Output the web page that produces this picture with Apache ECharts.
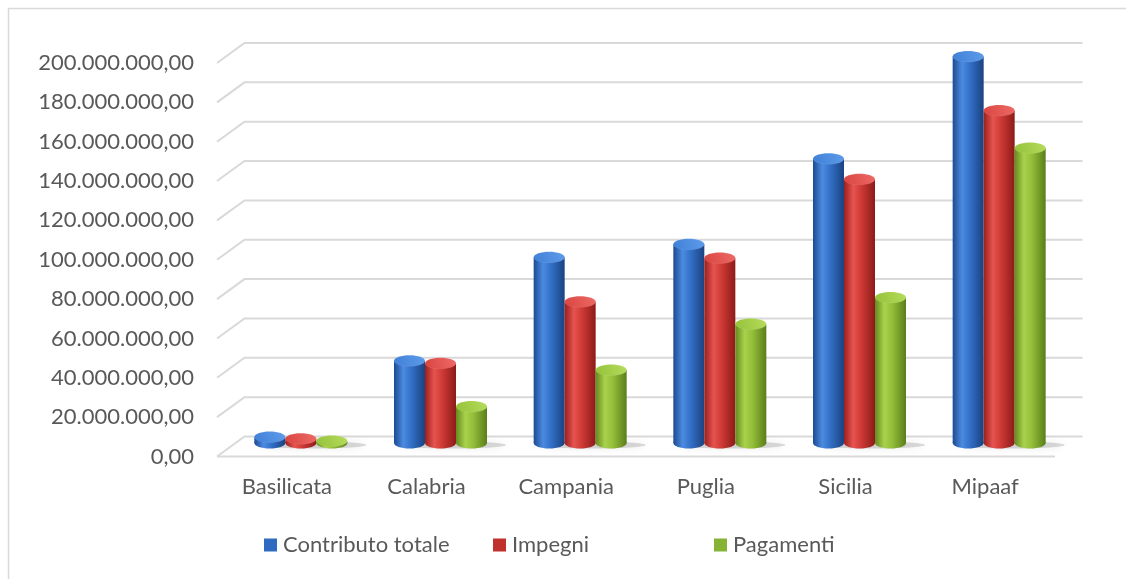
<!DOCTYPE html>
<html>
<head>
<meta charset="utf-8">
<script src="https://cdn.jsdelivr.net/npm/echarts@6/dist/echarts.min.js"></script>
<style>
  html, body { margin: 0; padding: 0; background: #ffffff; }
  #chart { width: 1126px; height: 579px; }
</style>
</head>
<body>
<div id="chart"></div>
<script>
// Regions and totals (euro)
const categories = ['Basilicata', 'Calabria', 'Campania', 'Puglia', 'Sicilia', 'Mipaaf'];
const contributoTotale = [3.0e6, 41.8e6, 94.4e6, 101.0e6, 144.5e6, 196.5e6];
const impegni          = [2.2e6, 40.5e6, 71.8e6, 94.0e6, 134.0e6, 169.0e6];
const pagamenti        = [1.0e6, 18.5e6, 37.1e6, 60.5e6, 74.0e6, 150.0e6];
const seriesNames = ['Contributo totale', 'Impegni', 'Pagamenti'];
const yTicks = [0, 20e6, 40e6, 60e6, 80e6, 100e6, 120e6, 140e6, 160e6, 180e6, 200e6];

// depth of the pseudo-3D box relative to the plane the cylinders stand in
const BACK_DX = 13.5, BACK_DY = -6.5;
const FRONT_DX = -14, FRONT_DY = 13.5;
const PLANE = { left: 231, width: 838, top: 49.5, height: 393.5 };
const BAR_W = 31;
const RY = 5.5;
const FONT = 'Lato, "Open Sans", sans-serif';
const FONT_SIZE = 22;
const TEXT_COLOR = '#595959';
const GRID_COLOR = '#d9d9d9';

const palettes = [
  { edge: '#1c4a92', light: '#4b8be0', mid: '#3371c8', shade: '#1a4280', top: ['#3f7fd6', '#5e9cea'], legend: '#2e6bc0' },
  { edge: '#9a1f1c', light: '#e65450', mid: '#cf3a36', shade: '#8c1b18', top: ['#d94440', '#ee6a66'], legend: '#c0302d' },
  { edge: '#648a1f', light: '#a9d24c', mid: '#94bf3a', shade: '#5a7e1a', top: ['#94c13a', '#b6dc5c'], legend: '#86b236' }
];

function fmtIt(v) {
  return String(Math.round(v)).replace(/\B(?=(\d{3})+(?!\d))/g, '.') + ',00';
}

function bodyGradient(p) {
  return new echarts.graphic.LinearGradient(0, 0, 1, 0, [
    { offset: 0, color: p.edge },
    { offset: 0.3, color: p.light },
    { offset: 0.55, color: p.mid },
    { offset: 1, color: p.shade }
  ]);
}

function topGradient(p) {
  return new echarts.graphic.LinearGradient(0, 1, 1, 0, [
    { offset: 0, color: p.top[0] },
    { offset: 1, color: p.top[1] }
  ]);
}

// back wall, side wall stubs and floor
function renderGridLines(params, api) {
  const cs = params.coordSys;
  const left = cs.x, right = cs.x + cs.width;
  const y = api.coord([0, api.value(1)])[1];
  const children = [];
  if (api.value(1) === 0) {
    children.push({
      type: 'polygon',
      shape: { points: [
        [left + FRONT_DX, y + FRONT_DY], [left + BACK_DX, y + BACK_DY],
        [right + BACK_DX, y + BACK_DY], [right + FRONT_DX, y + FRONT_DY]
      ] },
      style: { fill: '#ffffff', stroke: null }
    });
    children.push({
      type: 'line',
      shape: { x1: left + FRONT_DX, y1: y + FRONT_DY, x2: right + FRONT_DX, y2: y + FRONT_DY },
      style: { stroke: GRID_COLOR, lineWidth: 2 }
    });
  }
  children.push({
    type: 'polyline',
    shape: { points: [
      [left + FRONT_DX, y + FRONT_DY], [left + BACK_DX, y + BACK_DY], [right + BACK_DX, y + BACK_DY]
    ] },
    style: { stroke: GRID_COLOR, lineWidth: 2, fill: null }
  });
  return { type: 'group', children };
}

// soft floor shadow behind each group of cylinders
function renderShadow(params, api) {
  const base = api.coord([api.value(0), 0]);
  return {
    type: 'ellipse',
    shape: { cx: base[0] + 12, cy: base[1] + 2, rx: BAR_W * 1.6 + 4, ry: 3.5 },
    style: { fill: 'rgba(90,90,90,0.22)', shadowBlur: 9, shadowColor: 'rgba(0,0,0,0.4)' }
  };
}

function makeCylinder(si) {
  const p = palettes[si];
  return function (params, api) {
    const idx = api.value(0);
    const base = api.coord([idx, 0]);
    const top = api.coord([idx, api.value(1)]);
    const cx = base[0] + (si - 1) * BAR_W;
    const hw = BAR_W / 2;
    const h = Math.max(base[1] - top[1], 0);
    return {
      type: 'group',
      children: [
        { type: 'ellipse', shape: { cx: cx, cy: base[1], rx: hw, ry: RY }, style: { fill: bodyGradient(p) } },
        { type: 'rect', shape: { x: cx - hw, y: top[1], width: BAR_W, height: h }, style: { fill: bodyGradient(p) } },
        { type: 'ellipse', shape: { cx: cx, cy: top[1], rx: hw, ry: RY }, style: { fill: topGradient(p), stroke: 'rgba(255,255,255,0.15)', lineWidth: 0.5 } }
      ]
    };
  };
}

const seriesData = [contributoTotale, impegni, pagamenti];

const chart = echarts.init(document.getElementById('chart'), null, { renderer: 'canvas' });

const legendLeft = [264, 493, 714];

const hiddenAxis = {
  axisLine: { show: false }, axisTick: { show: false },
  splitLine: { show: false }, axisLabel: { show: false }
};
const labelStyle = { color: TEXT_COLOR, fontFamily: FONT, fontSize: FONT_SIZE };

chart.setOption({
  animation: false,
  backgroundColor: '#ffffff',
  textStyle: { fontFamily: FONT },
  grid: [
    // plane the cylinders stand in
    { left: PLANE.left, width: PLANE.width, top: PLANE.top, height: PLANE.height },
    // front edge of the box, carrying the axis labels
    { left: PLANE.left + FRONT_DX, width: PLANE.width, top: PLANE.top + FRONT_DY, height: PLANE.height }
  ],
  xAxis: [
    Object.assign({ type: 'category', data: categories, gridIndex: 0 }, hiddenAxis),
    {
      type: 'category', data: categories, gridIndex: 1,
      axisLine: { show: false }, axisTick: { show: false }, splitLine: { show: false },
      axisLabel: Object.assign({ margin: 19 }, labelStyle)
    }
  ],
  yAxis: [
    Object.assign({ type: 'value', min: 0, max: 200e6, interval: 20e6, gridIndex: 0 }, hiddenAxis),
    {
      type: 'value', min: 0, max: 200e6, interval: 20e6, gridIndex: 1,
      axisLine: { show: false }, axisTick: { show: false }, splitLine: { show: false },
      axisLabel: Object.assign({ margin: 23, formatter: fmtIt }, labelStyle)
    }
  ],
  legend: seriesNames.map((name, i) => ({
    data: [name],
    left: legendLeft[i],
    top: 534,
    padding: 0,
    icon: 'rect',
    itemWidth: 13,
    itemHeight: 13,
    textStyle: { color: TEXT_COLOR, fontFamily: FONT, fontSize: FONT_SIZE, padding: [0, 0, 0, 1] }
  })),
  graphic: [{
    type: 'rect',
    left: 6, top: 6,
    shape: { width: 1200, height: 700 },
    style: { fill: null, stroke: '#d9d9d9', lineWidth: 1.5 },
    silent: true,
    z: -10
  }],
  series: [
    {
      type: 'custom',
      name: 'grid',
      renderItem: renderGridLines,
      data: yTicks.map(v => [0, v]),
      encode: { x: 0, y: 1 },
      clip: false, silent: true, z: 0
    },
    {
      type: 'custom',
      name: 'shadow',
      renderItem: renderShadow,
      data: categories.map((c, i) => [i, 0]),
      encode: { x: 0, y: 1 },
      clip: false, silent: true, z: 1
    }
  ].concat(seriesNames.map((name, si) => ({
    type: 'custom',
    name: name,
    renderItem: makeCylinder(si),
    data: seriesData[si].map((v, i) => [i, v]),
    encode: { x: 0, y: 1 },
    itemStyle: { color: palettes[si].legend },
    clip: false, z: 2
  })))
});
</script>
</body>
</html>
